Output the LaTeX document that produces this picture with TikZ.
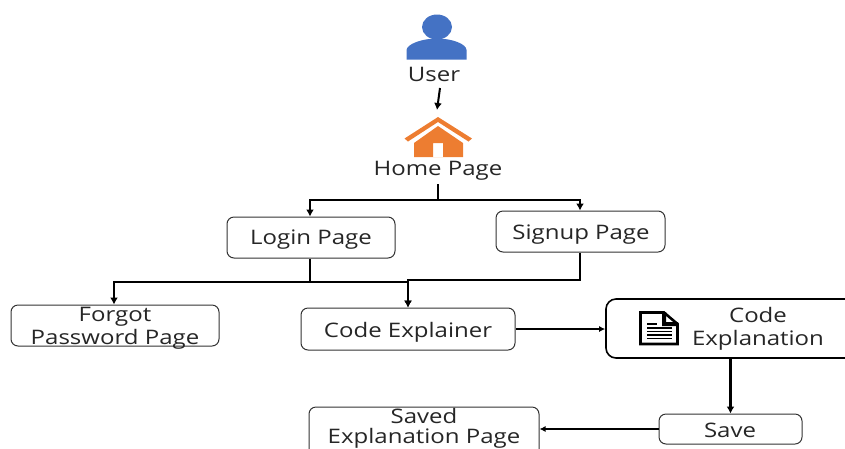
\documentclass[tikz,border=0pt]{standalone}
\usepackage{fontspec}
\setmainfont[FakeStretch=1.2]{Open Sans}
\usetikzlibrary{arrows.meta}
\definecolor{userblue}{HTML}{4472C4}
\definecolor{houseorange}{HTML}{ED7D31}
\definecolor{boxline}{HTML}{333333}
\tikzset{
  box/.style={draw=boxline,line width=1pt,rounded corners=7pt,fill=white,inner sep=0pt,align=center,font=\fontsize{20}{23}\selectfont,text=black!85},
  thickbox/.style={box,draw=black,line width=1.6pt,rounded corners=10pt},
  label/.style={inner sep=0pt,align=center,font=\fontsize{20}{23}\selectfont,text=black!85},
  tightlabel/.style={label,font=\fontsize{20}{20}\selectfont},
  conn/.style={draw=black,line width=2pt,-{Latex[length=7pt,width=8pt]}},
  plainconn/.style={draw=black,line width=2pt},
  thinconn/.style={draw=black,line width=1.2pt,-{Latex[length=6pt,width=6pt]}}
}
\begin{document}
\begin{tikzpicture}[x=1pt,y=-1pt]
\useasboundingbox (0,0) rectangle (845,448);
\clip (0,0) rectangle (845,448);
% user icon
\fill[userblue] (437,27) ellipse [x radius=15,y radius=12.5];
\fill[userblue] (406.5,59.5) -- (406.5,50) .. controls (407,44) and (422,38.5) .. (437,38.5) .. controls (452,38.5) and (466.5,44) .. (466.5,50) -- (466.5,59.5) -- cycle;
% house icon
\fill[houseorange] (404.5,138.5) -- (438,117) -- (472,138.5) -- (468.5,141.5) -- (438,122) -- (408,141.5) -- cycle;
\fill[houseorange,even odd rule] (414,157) -- (414,143) -- (438,126) -- (463,143) -- (463,157) -- cycle (433,157) -- (433,143) -- (443,143) -- (443,157) -- cycle;
% nodes
\node[box,minimum width=168pt,minimum height=41pt] (login) at (311,237.5) {};
\node[box,minimum width=169pt,minimum height=41pt] (signup) at (580.5,231.5) {};
\node[box,minimum width=208pt,minimum height=41pt] (forgot) at (115,325.5) {};
\node[box,minimum width=214pt,minimum height=42pt] (explainer) at (408,329) {};
\node[thickbox,minimum width=260pt,minimum height=59pt] (explanation) at (736,328.5) {};
\node[box,minimum width=143pt,minimum height=30pt] (save) at (730.5,429) {};
\node[box,minimum width=230pt,minimum height=60pt] (saved) at (424,437) {};
\node[label] (user) at (434,74) {User};
\node[label] (home) at (438,170.5) {Home Page};
\node[label] (logint) at (311,240) {Login Page};
\node[label] (signupt) at (581,235) {Signup Page};
\node[label] (forgott) at (115,328.5) {Forgot\\Password Page};
\node[label] (explainert) at (408,332) {Code Explainer};
\node[label] (explabel) at (758,329) {Code\\Explanation};
\node[label] (savet) at (730,430) {Save};
\node[tightlabel] (savedt) at (424,428) {Saved\\Explanation Page};
% document icon
\draw[black,line width=2.6pt,line join=miter] (640.5,312.5) -- (664,312.5) -- (677.5,324) -- (677.5,344) -- (640.5,344) -- cycle;
\fill[black] (662,312) -- (662,326) -- (678,326) -- (678,322) -- (666,322) -- (666,312) -- cycle;
\draw[black,line width=1.3pt] (647,324) -- (657,324);
\foreach \yy in {328,331.5,335,338.5}{\draw[black,line width=1.3pt] (647,\yy) -- (672,\yy);}
% connector helpers
\coordinate (hjoin) at (438,200);
\coordinate (hstart) at (438,184);
\coordinate (ljoin) at (310,282);
\coordinate (sjoin) at (580,280);
\coordinate (ejoin) at (408,280);
\coordinate (uend) at (440,88);
\coordinate (uhead) at (437,110);
% connectors
\draw[conn] (uend) -- (uhead);
\draw[plainconn] (hstart) -- (hjoin);
\draw[conn] (hjoin) -| (login.north -| ljoin);
\draw[conn] (hjoin) -| (signup.north -| sjoin);
\draw[plainconn] (login.south -| ljoin) -- (ljoin);
\draw[conn] (ljoin) -| (forgot.north -| 114,0);
\draw[conn] (ljoin) -| (explainer.north -| ejoin);
\draw[conn] (signup.south -| sjoin) |- (ejoin) -- (explainer.north -| ejoin);
\draw[thinconn] (explainer.east) -- (explanation.west |- explainer.east);
\draw[conn,line width=2.4pt] (explanation.south -| save.north) -- (save.north);
\draw[thinconn] (save.west) -- (saved.east |- save.west);
\end{tikzpicture}
\end{document}
